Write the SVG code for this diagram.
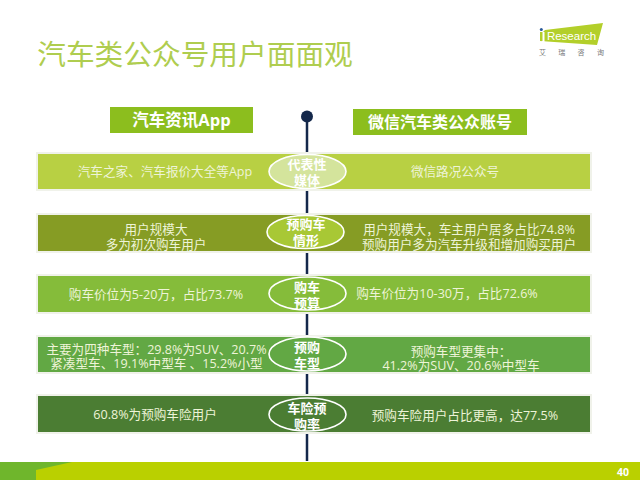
<svg xmlns="http://www.w3.org/2000/svg" width="640" height="480" viewBox="0 0 640 480">
<style>
text{font-family:"Open Sans","Noto Sans CJK SC",sans-serif;text-anchor:middle}
.t{font-size:12.6px;fill:#eef4d8}
.h{font-size:16.5px;font-weight:700;fill:#fff}
.o{font-size:13px;font-weight:700;fill:#fff}
.e{stroke:#fff;stroke-width:1.6}
.r{stroke:#f0f2ea;stroke-width:4;paint-order:stroke}
</style>
<rect width="640" height="480" fill="#fff"/>
<g id="title"><text x="195" y="65" style="font-size:28.700px;fill:#afcd4f;font-family:'Noto Sans CJK SC',sans-serif">汽车类公众号用户面面观</text></g>
<g id="logo">
<polygon points="545,30 603,23 597,45 540,41 543,32" fill="#b3cf2a"/>
<rect x="542" y="32" width="2.500" height="10" fill="#fff"/>
<rect x="540" y="32" width="2.500" height="9" fill="#b3cf2a"/>
<circle cx="541.300" cy="29.500" r="1.500" fill="#2a5a9a"/>
<text x="571.500" y="39.500" style="font-size:11.500px;fill:#fff;font-family:'Liberation Sans',sans-serif">Research</text>
<text x="539" y="54.500" style="font-size:7px;fill:#777;letter-spacing:12.300px;text-anchor:start">艾瑞咨询</text>
</g>
<g id="footer">
<rect x="0" y="462" width="640" height="18" fill="#bad000"/>
<polygon points="0,462 72,462 36,470 36,480 0,480" fill="#6fb62c"/>
<text x="623" y="476" style="font-size:10.500px;font-weight:700;fill:#fff">40</text>
</g>
<g id="connectors">
<line x1="307" y1="116" x2="307" y2="461" stroke="#14284b" stroke-width="2.500"/>
<circle cx="307" cy="116.500" r="6" fill="#14284b"/>
</g>
<g id="head-left"><rect x="110" y="107" width="143" height="26" fill="#8cbe1e"/><text class="h" x="181.500" y="126">汽车资讯App</text></g>
<g id="head-right"><rect x="353" y="109" width="174" height="26" fill="#8cbe1e"/><text class="h" x="440" y="128" style="font-size:16px">微信汽车类公众账号</text></g>
<g id="row1">
<rect class="r" x="38" y="154" width="552" height="35" fill="#b8d043"/>
<ellipse class="e" cx="307.500" cy="171.500" rx="38.500" ry="17" fill="#d4e49c"/>
<text class="t" x="165" y="176">汽车之家、汽车报价大全等App</text>
<text class="t" x="455" y="176">微信路况公众号</text>
<text class="o" x="307" y="169">代表性<tspan x="307" dy="16">媒体</tspan></text>
</g>
<g id="row2">
<rect class="r" x="38" y="215" width="552" height="36" fill="#869c24"/>
<ellipse class="e" cx="305.500" cy="232" rx="38.500" ry="16.500" fill="#a8c835"/>
<text class="t" x="156" y="234">用户规模大<tspan x="156" dy="14.500">多为初次购车用户</tspan></text>
<text class="t" x="469" y="234">用户规模大，车主用户居多占比74.8%<tspan x="469" dy="14.500">预购用户多为汽车升级和增加购买用户</tspan></text>
<text class="o" x="306" y="229">预购车<tspan x="306" dy="16">情形</tspan></text>
</g>
<g id="row3">
<rect class="r" x="38" y="276" width="552" height="36" fill="#85bc3a"/>
<ellipse class="e" cx="307.500" cy="293.500" rx="38.500" ry="16.500" fill="#85bc3a"/>
<text class="t" x="156" y="299">购车价位为5-20万，占比73.7%</text>
<text class="t" x="447" y="298">购车价位为10-30万，占比72.6%</text>
<text class="o" x="307" y="292">购车<tspan x="307" dy="16">预算</tspan></text>
</g>
<g id="row4">
<rect class="r" x="38" y="337" width="552" height="35" fill="#62a844"/>
<ellipse class="e" cx="307.500" cy="354" rx="38.500" ry="17" fill="#62a844"/>
<text class="t" x="156.500" y="353.500">主要为四种车型：29.8%为SUV、20.7%<tspan x="156.500" dy="14.500">紧凑型车、19.1%中型车 、15.2%小型</tspan></text>
<text class="t" x="461" y="355.500">预购车型更集中：<tspan x="461" dy="14.500">41.2%为SUV、20.6%中型车</tspan></text>
<text class="o" x="307" y="352">预购<tspan x="307" dy="15.500">车型</tspan></text>
</g>
<g id="row5">
<rect class="r" x="38" y="396" width="552" height="36" fill="#4b7d33"/>
<ellipse class="e" cx="307.500" cy="414.500" rx="38.500" ry="16.500" fill="#4b7d33"/>
<text class="t" x="155" y="419">60.8%为预购车险用户</text>
<text class="t" x="465" y="420">预购车险用户占比更高，达77.5%</text>
<text class="o" x="307" y="413">车险预<tspan x="307" dy="15.500">购率</tspan></text>
</g>
</svg>
